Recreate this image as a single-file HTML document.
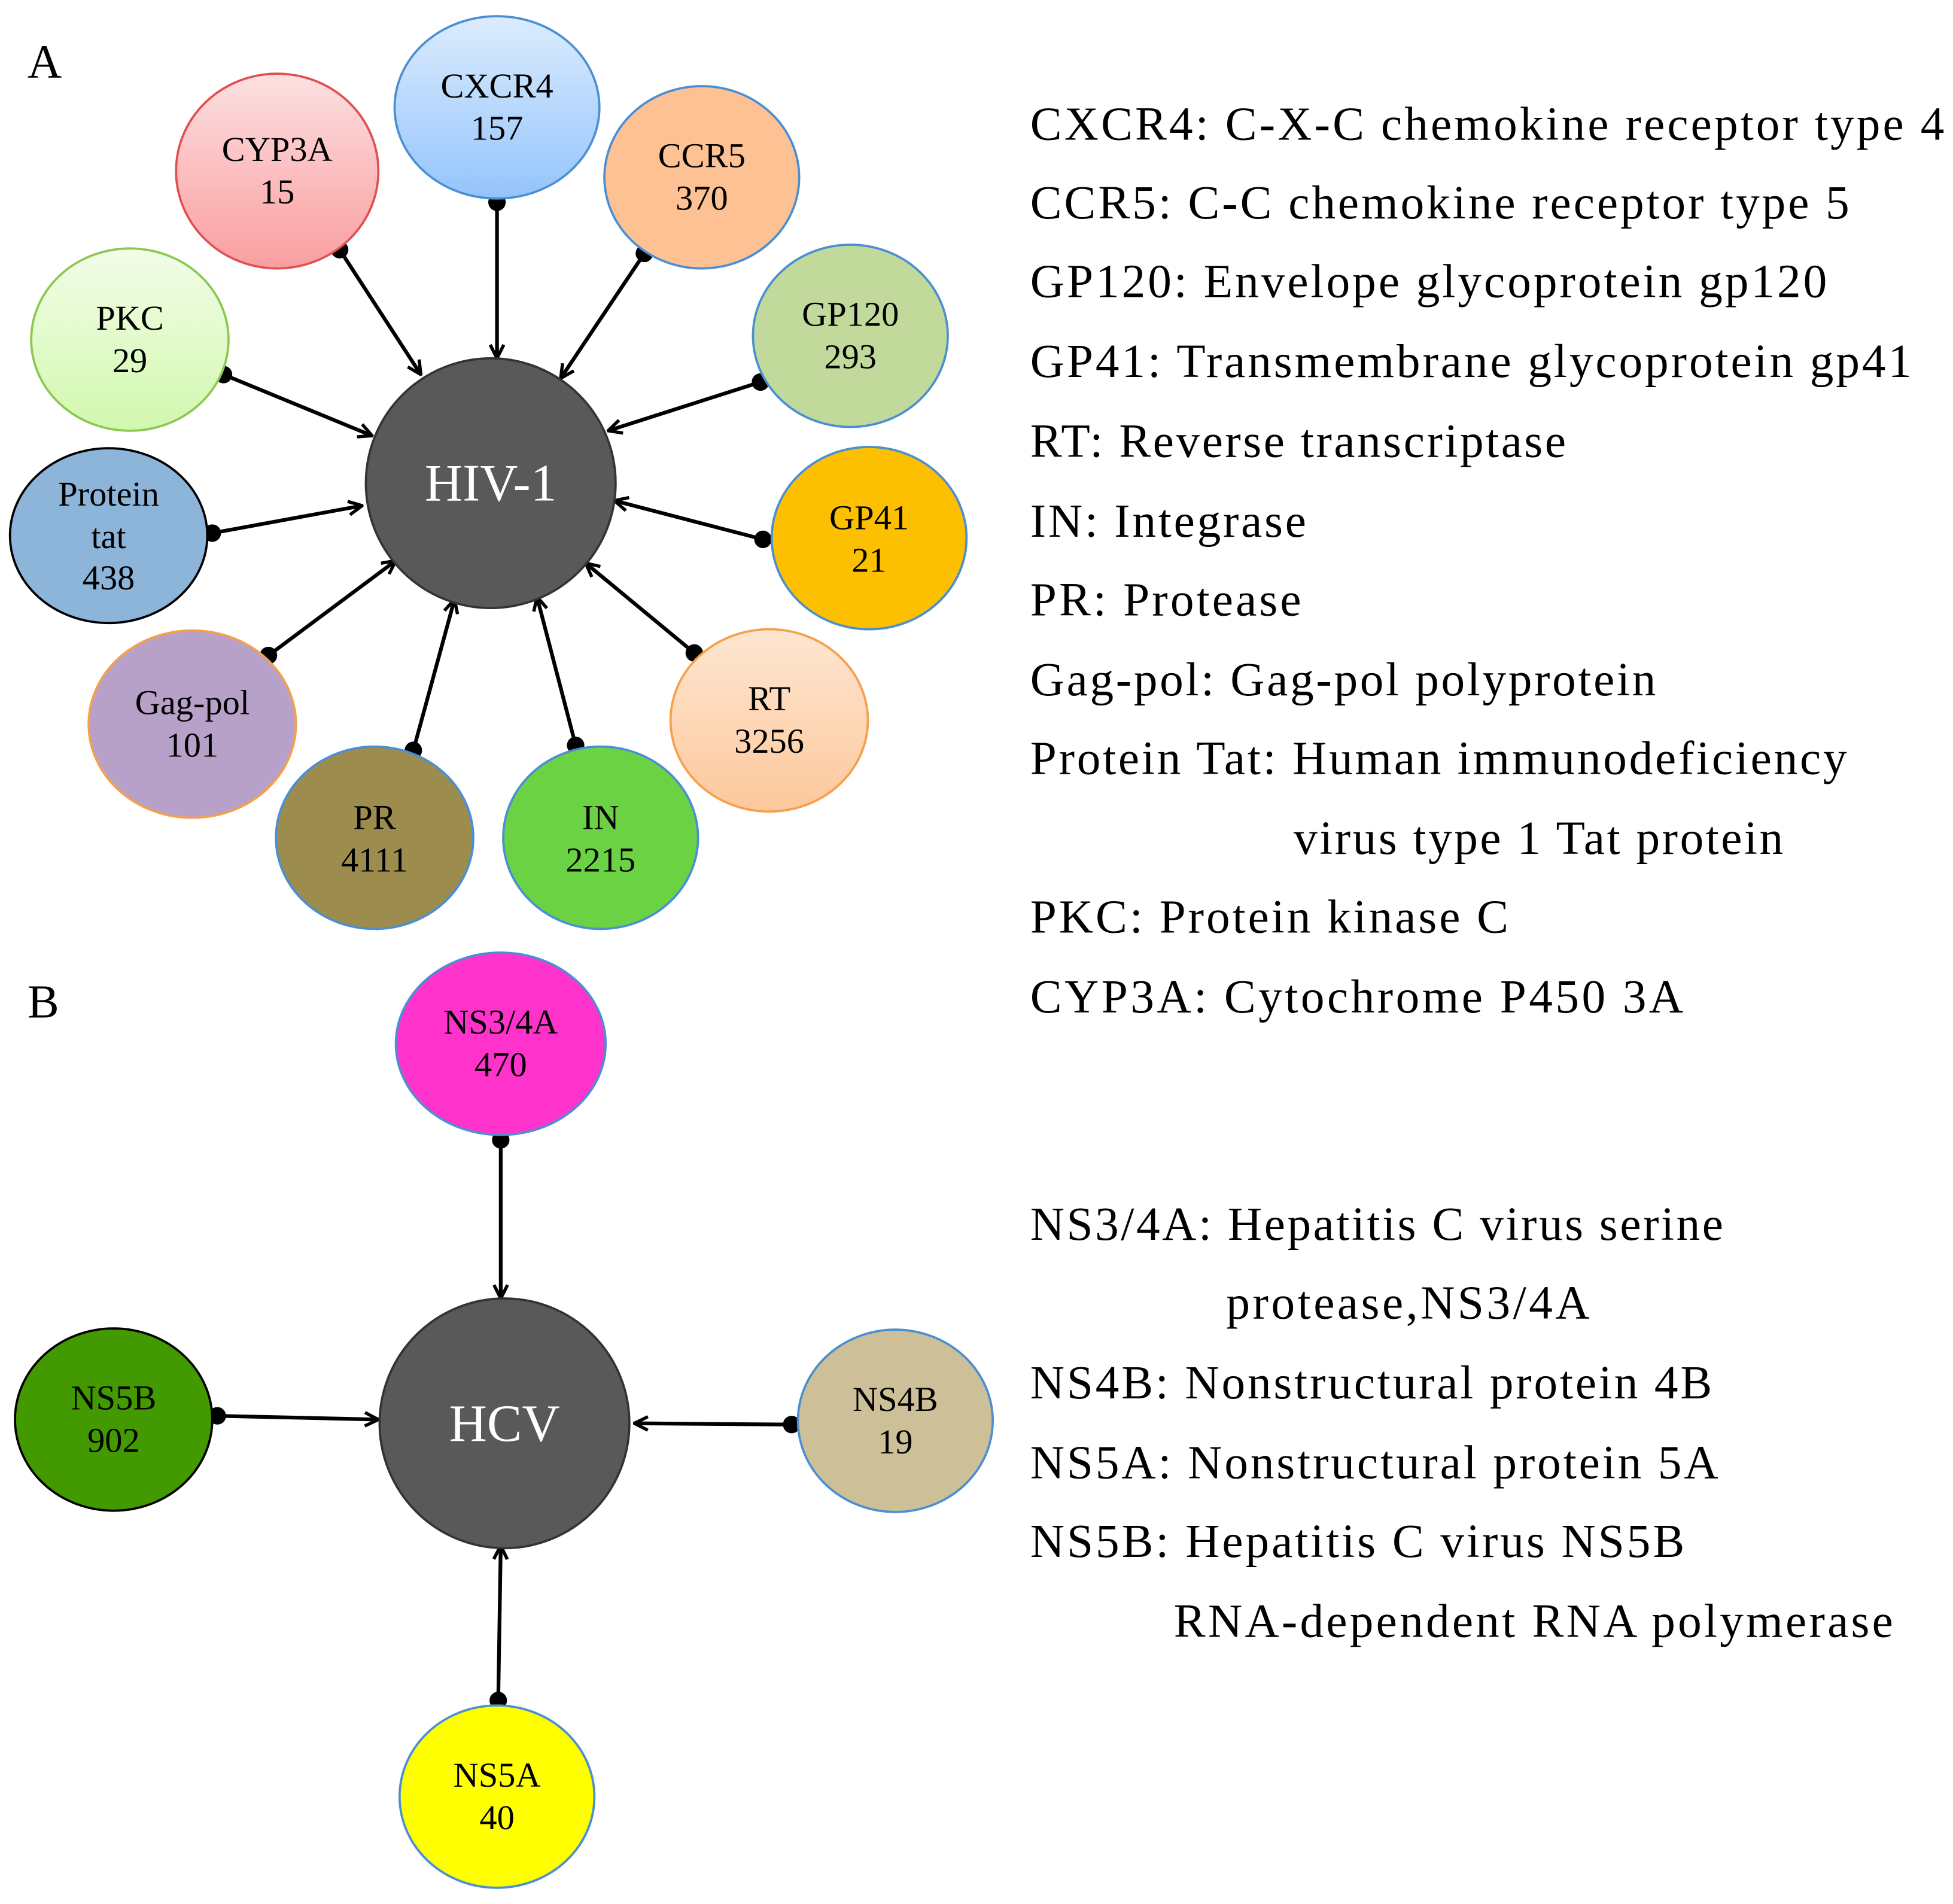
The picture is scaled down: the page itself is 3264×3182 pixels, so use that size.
<!DOCTYPE html>
<html><head><meta charset="utf-8"><style>html,body{margin:0;padding:0;background:#fff}svg{display:block}</style></head>
<body>
<svg xmlns="http://www.w3.org/2000/svg" width="3264" height="3182" viewBox="0 0 1564 1525" preserveAspectRatio="none" font-family="'Liberation Serif', serif">
<defs>
<linearGradient id="gb" x1="0" y1="0" x2="0" y2="1"><stop offset="0" stop-color="#dcecfe"/><stop offset="1" stop-color="#94c4fb"/></linearGradient>
<linearGradient id="gr" x1="0" y1="0" x2="0" y2="1"><stop offset="0" stop-color="#fde0e1"/><stop offset="1" stop-color="#fa9ea0"/></linearGradient>
<linearGradient id="gg" x1="0" y1="0" x2="0" y2="1"><stop offset="0" stop-color="#f2fde8"/><stop offset="1" stop-color="#d2f8ae"/></linearGradient>
<linearGradient id="go" x1="0" y1="0" x2="0" y2="1"><stop offset="0" stop-color="#fee6d2"/><stop offset="1" stop-color="#fdc89c"/></linearGradient>
<marker id="ar" viewBox="0 0 12 12" refX="11" refY="6" markerWidth="13" markerHeight="13" markerUnits="userSpaceOnUse" orient="auto"><path d="M1,1 L11,6 L1,11" fill="none" stroke="#000" stroke-width="2.4"/></marker>
</defs>
<g stroke="#000" stroke-width="3" marker-end="url(#ar)">
<line x1="398" y1="162" x2="398" y2="287"/>
<line x1="272" y1="200" x2="337" y2="300"/>
<line x1="516" y1="203" x2="449" y2="303"/>
<line x1="179" y1="300" x2="298" y2="349"/>
<line x1="609" y1="306" x2="487" y2="345"/>
<line x1="170" y1="427" x2="290" y2="405"/>
<line x1="611" y1="432" x2="492" y2="401"/>
<line x1="215" y1="525" x2="317" y2="449"/>
<line x1="556" y1="523" x2="469" y2="451"/>
<line x1="331" y1="601" x2="364" y2="480"/>
<line x1="461" y1="597" x2="430" y2="478"/>
<line x1="401" y1="913" x2="401" y2="1040"/>
<line x1="174" y1="1134" x2="303" y2="1137"/>
<line x1="634" y1="1141" x2="508" y2="1140"/>
<line x1="399" y1="1362" x2="401" y2="1238"/>
</g>
<g fill="#000">
<circle cx="398" cy="162" r="7"/><circle cx="272" cy="200" r="7"/><circle cx="516" cy="203" r="7"/>
<circle cx="179" cy="300" r="7"/><circle cx="609" cy="306" r="7"/><circle cx="170" cy="427" r="7"/>
<circle cx="611" cy="432" r="7"/><circle cx="215" cy="525" r="7"/><circle cx="556" cy="523" r="7"/>
<circle cx="331" cy="601" r="7"/><circle cx="461" cy="597" r="7"/><circle cx="401" cy="913" r="7"/>
<circle cx="174" cy="1134" r="7"/><circle cx="634" cy="1141" r="7"/><circle cx="399" cy="1362" r="7"/>
</g>
<g stroke-width="1.8">
<ellipse cx="398" cy="86" rx="82" ry="73" fill="url(#gb)" stroke="#4a8fd3"/>
<ellipse cx="222" cy="137" rx="81" ry="78" fill="url(#gr)" stroke="#e05050"/>
<ellipse cx="562" cy="142" rx="78" ry="73" fill="#fdc193" stroke="#4a8fd3"/>
<ellipse cx="104" cy="272" rx="79" ry="73" fill="url(#gg)" stroke="#8cc850"/>
<ellipse cx="681" cy="269" rx="78" ry="73" fill="#c2d99c" stroke="#4a8fd3"/>
<ellipse cx="87" cy="429" rx="79" ry="70" fill="#8db4d9" stroke="#000"/>
<ellipse cx="696" cy="431" rx="78" ry="73" fill="#fdc000" stroke="#4a8fd3"/>
<ellipse cx="154" cy="580" rx="83" ry="75" fill="#b8a1c8" stroke="#f5a04a"/>
<ellipse cx="616" cy="577" rx="79" ry="73" fill="url(#go)" stroke="#f5a04a"/>
<ellipse cx="300" cy="671" rx="79" ry="73" fill="#9c8c4e" stroke="#4a8fd3"/>
<ellipse cx="481" cy="671" rx="78" ry="73" fill="#6bd243" stroke="#4a8fd3"/>
<circle cx="393" cy="387" r="100" fill="#595959" stroke="#333"/>
<ellipse cx="401" cy="836" rx="84" ry="73" fill="#ff33cc" stroke="#4a8fd3"/>
<ellipse cx="91" cy="1137" rx="79" ry="73" fill="#439a00" stroke="#000"/>
<ellipse cx="717" cy="1138" rx="78" ry="73" fill="#cdbf97" stroke="#4a8fd3"/>
<ellipse cx="398" cy="1439" rx="78" ry="73" fill="#ffff00" stroke="#4a8fd3"/>
<circle cx="404" cy="1140" r="100" fill="#595959" stroke="#333"/>
</g>
<g font-size="28" text-anchor="middle" fill="#000">
<text x="398" y="78">CXCR4</text><text x="398" y="112">157</text>
<text x="222" y="129">CYP3A</text><text x="222" y="163">15</text>
<text x="562" y="134">CCR5</text><text x="562" y="168">370</text>
<text x="104" y="264">PKC</text><text x="104" y="298">29</text>
<text x="681" y="261">GP120</text><text x="681" y="295">293</text>
<text x="87" y="405">Protein</text><text x="87" y="439">tat</text><text x="87" y="472">438</text>
<text x="696" y="424">GP41</text><text x="696" y="458">21</text>
<text x="154" y="572">Gag-pol</text><text x="154" y="606">101</text>
<text x="616" y="569">RT</text><text x="616" y="603">3256</text>
<text x="300" y="664">PR</text><text x="300" y="698">4111</text>
<text x="481" y="664">IN</text><text x="481" y="698">2215</text>
<text x="401" y="828">NS3/4A</text><text x="401" y="862">470</text>
<text x="91" y="1129">NS5B</text><text x="91" y="1163">902</text>
<text x="717" y="1130">NS4B</text><text x="717" y="1164">19</text>
<text x="398" y="1431">NS5A</text><text x="398" y="1465">40</text>
</g>
<g font-size="42" text-anchor="middle" fill="#fff">
<text x="393" y="401">HIV-1</text>
<text x="404" y="1154">HCV</text>
</g>
<g font-size="38" fill="#000" lengthAdjust="spacing">
<text x="22" y="62">A</text>
<text x="22" y="815">B</text>
<text x="825" y="112" textLength="732">CXCR4: C-X-C chemokine receptor type 4</text>
<text x="825" y="175" textLength="656">CCR5: C-C chemokine receptor type 5</text>
<text x="825" y="238" textLength="638">GP120: Envelope glycoprotein gp120</text>
<text x="825" y="302" textLength="706">GP41: Transmembrane glycoprotein gp41</text>
<text x="825" y="366" textLength="429">RT: Reverse transcriptase</text>
<text x="825" y="430" textLength="221">IN: Integrase</text>
<text x="825" y="493" textLength="217">PR: Protease</text>
<text x="825" y="557" textLength="501">Gag-pol: Gag-pol polyprotein</text>
<text x="825" y="620" textLength="654">Protein Tat: Human immunodeficiency</text>
<text x="1036" y="684" textLength="392">virus type 1 Tat protein</text>
<text x="825" y="747" textLength="383">PKC: Protein kinase C</text>
<text x="825" y="811" textLength="523">CYP3A: Cytochrome P450 3A</text>
<text x="825" y="993" textLength="555">NS3/4A: Hepatitis C virus serine</text>
<text x="982" y="1056" textLength="291">protease,NS3/4A</text>
<text x="825" y="1120" textLength="546">NS4B: Nonstructural protein 4B</text>
<text x="825" y="1184" textLength="551">NS5A: Nonstructural protein 5A</text>
<text x="825" y="1247" textLength="524">NS5B: Hepatitis C virus NS5B</text>
<text x="940" y="1311" textLength="576">RNA-dependent RNA polymerase</text>
</g>
</svg>
</body></html>
